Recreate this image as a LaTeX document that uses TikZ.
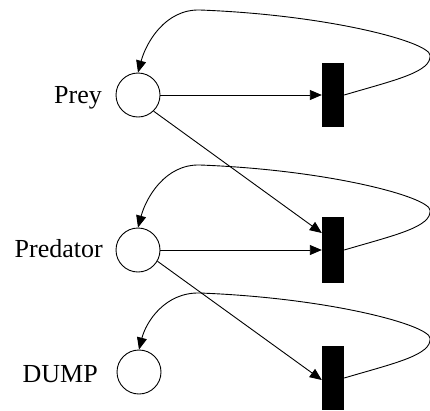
\documentclass[tikz,border=0pt]{standalone}
\usepackage{fontspec}
\setmainfont{Liberation Serif}
\usetikzlibrary{arrows.meta,calc}
\begin{document}
\begin{tikzpicture}[x=1pt,y=-1pt,
  place/.style={circle,draw,line width=0.9pt,minimum size=44pt,inner sep=0pt},
  trans/.style={rectangle,fill=black,minimum width=22pt,minimum height=64pt,inner sep=0pt},
  lbl/.style={anchor=base east,inner sep=0pt,font=\fontsize{26}{30}\selectfont},
  arc/.style={line width=0.9pt,-{Triangle[length=12pt,width=10pt]}}]
\useasboundingbox[fill=white] (0,0) rectangle (430,410);
% places
\node[place] (prey) at (138,95) {};
\node[place] (pred) at (138,250) {};
\node[place] (dump) at (139,372) {};
% labels
\node[lbl] (lprey) at (102,103) {Prey};
\node[lbl] (lpred) at (103,257) {Predator};
\node[lbl] (ldump) at (98,382) {DUMP};
% transitions
\node[trans] (t1) at (333,95) {};
\node[trans,minimum height=66pt] (t2) at (333,250) {};
\node[trans] (t3) at (333,378) {};
% straight arcs
\draw[arc] (prey.east) -- (t1.west);
\draw[arc] (prey.-46) -- ($(t2.west)+(0,-17)$);
\draw[arc] (pred.east) -- (t2.west);
\draw[arc] (pred.-30) -- ($(t3.west)+(0,2)$);
% loops back
\draw[arc] (t1.east) .. controls (395,80) and (432,72) .. (430,55)
  .. controls (428.5,42) and (330,15) .. (200,10)
  .. controls (165,9) and (146,43) .. (prey.north);
\draw[arc] (t2.east) .. controls (395,235) and (432,227) .. (430,210)
  .. controls (428.5,197) and (330,170) .. (200,165)
  .. controls (165,164) and (146,198) .. (pred.north);
\draw[arc] (t3.east) .. controls (395,363) and (432,355) .. (430,338)
  .. controls (428.5,325) and (330,298) .. (200,293)
  .. controls (165,292) and (146,322) .. (dump.north);
\end{tikzpicture}
\end{document}
